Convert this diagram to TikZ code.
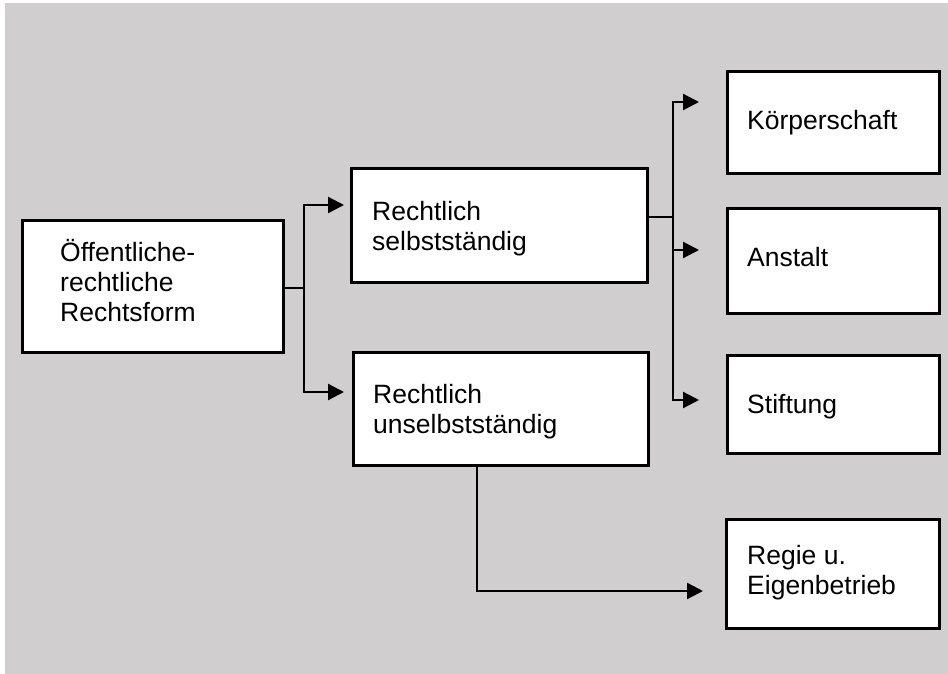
\documentclass[tikz,border=0pt]{standalone}
\usepackage{fontspec}
\setmainfont{Liberation Sans}
\usetikzlibrary{arrows.meta}
\definecolor{bg}{RGB}{208,206,206}
\begin{document}
\begin{tikzpicture}[x=1pt,y=-1pt,
  box/.style={draw=black, line width=2.6pt, fill=white, inner sep=0pt, anchor=north west},
  lbl/.style={anchor=base west, inner sep=0pt, font=\fontsize{26.5}{30.3}\selectfont},
  conn/.style={line width=2.3pt, draw=black},
  arr/.style={conn, -{Triangle[length=16pt,width=16pt]}}]
\useasboundingbox (0,0) rectangle (948,674);
\fill[white] (0,0) rectangle (948,674);
\fill[bg] (5,3) rectangle (948,674);
% boxes
\node[box, minimum width=261pt, minimum height=132pt] (b1) at (21,219) {};
\node[box, minimum width=296pt, minimum height=114pt] (b2) at (350,167) {};
\node[box, minimum width=295pt, minimum height=113pt] (b3) at (352,351) {};
\node[box, minimum width=212pt, minimum height=102pt] (b4) at (726,70) {};
\node[box, minimum width=212pt, minimum height=105pt] (b5) at (726,207) {};
\node[box, minimum width=212pt, minimum height=98pt] (b6) at (726,354) {};
\node[box, minimum width=213pt, minimum height=109pt] (b7) at (725,518) {};
% labels
\node[lbl] (t1) at (60,261) {\begin{tabular}[t]{@{}l@{}}Öffentliche-\\rechtliche\\Rechtsform\end{tabular}};
\node[lbl] (t2) at (372,220) {\begin{tabular}[t]{@{}l@{}}Rechtlich\\selbstständig\end{tabular}};
\node[lbl] (t3) at (373,403) {\begin{tabular}[t]{@{}l@{}}Rechtlich\\unselbstständig\end{tabular}};
\node[lbl] (t4) at (747,130) {Körperschaft};
\node[lbl] (t5) at (747,266) {Anstalt};
\node[lbl] (t6) at (747,413) {Stiftung};
\node[lbl] (t7) at (747,564) {\begin{tabular}[t]{@{}l@{}}Regie u.\\Eigenbetrieb\end{tabular}};
% left connectors
\coordinate (j1) at (304,288);
\coordinate (k1) at (304,205);
\coordinate (k2) at (304,392);
\draw[conn] (b1.east |- j1) -- (j1);
\draw[arr, shorten >=6pt] (j1) -- (k1) -- (b2.west |- k1);
\draw[arr, shorten >=8pt] (j1) -- (k2) -- (b3.west |- k2);
% right connectors
\coordinate (j2) at (673,217);
\coordinate (m1) at (673,102);
\coordinate (m2) at (673,250);
\coordinate (m3) at (673,400);
\draw[conn] (b2.east |- j2) -- (j2);
\draw[arr, shorten >=27pt] (j2) -- (m1) -- (b4.west |- m1);
\draw[arr, shorten >=27pt] (m2) -- (b5.west |- m2);
\draw[arr, shorten >=27pt] (j2) -- (m3) -- (b6.west |- m3);
% bottom connector
\coordinate (c1) at (477,591);
\draw[arr, shorten >=22pt] (b3.south -| c1) -- (c1) -- (b7.west |- c1);
\end{tikzpicture}
\end{document}
